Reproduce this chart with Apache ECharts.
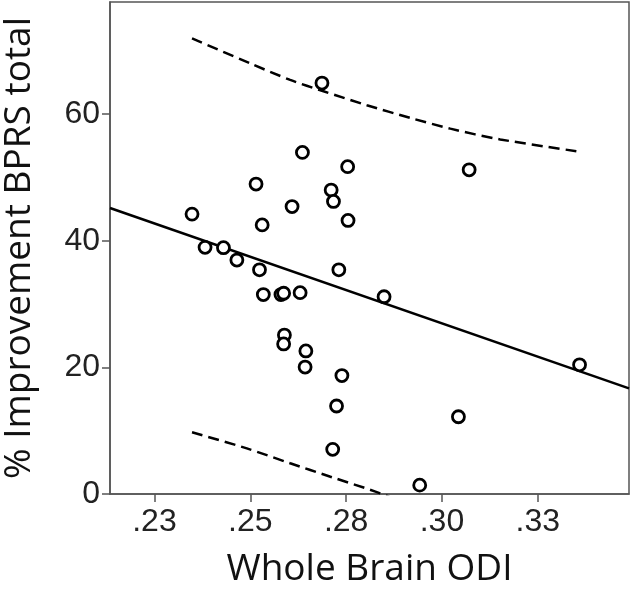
<!DOCTYPE html>
<html>
<head>
<meta charset="utf-8">
<script src="https://cdn.jsdelivr.net/npm/echarts@6/dist/echarts.min.js"></script>
<style>
  html, body { margin: 0; padding: 0; background: #fff; }
  #chart { width: 630px; height: 594px; }
</style>
</head>
<body>
<div id="chart"></div>
<script>
// Scatter data: Whole Brain ODI vs % Improvement BPRS total
const odi = [0.2687, 0.2636, 0.2754, 0.2515, 0.2711, 0.2717, 0.2609, 0.2348, 0.2531, 0.2755,
             0.2382, 0.2430, 0.2465, 0.2524, 0.2731, 0.2534, 0.2580, 0.2587, 0.2630, 0.2589,
             0.2587, 0.2645, 0.2643, 0.2739, 0.2725, 0.2715, 0.2849, 0.3071, 0.3359, 0.3043, 0.2942];
const bprs = [64.9, 53.95, 51.7, 48.95, 48.0, 46.2, 45.4, 44.2, 42.5, 43.2,
              38.95, 38.9, 36.95, 35.4, 35.4, 31.5, 31.5, 31.7, 31.8, 25.1,
              23.7, 22.6, 20.05, 18.7, 13.9, 7.05, 31.15, 51.2, 20.4, 12.2, 1.4];

// Fit line endpoints
const fitX = [0.2134, 0.3488];
const fitY = [45.16, 16.69];

// Upper / lower 95% prediction interval curves
const upperX = [0.2348, 0.2500, 0.2604, 0.2691, 0.2804, 0.2917, 0.3022, 0.3152, 0.3361];
const upperY = [71.95, 68.0, 65.4, 63.6, 61.4, 59.4, 57.7, 56.0, 54.05];
const lowerX = [0.2348, 0.2491, 0.2604, 0.2709, 0.2839, 0.2917];
const lowerY = [9.74, 7.2, 4.85, 2.73, 0.11, -1.9];

// Axis ticks
const xTickValues = [0.225, 0.25, 0.275, 0.30, 0.325];
const xTickLabels = ['.23', '.25', '.28', '.30', '.33'];
const yTickValues = [0, 20, 40, 60];
const yTickLabels = ['0', '20', '40', '60'];

const xTitle = 'Whole Brain ODI';
const yTitle = '% Improvement BPRS total';

const zip = (a, b) => a.map((v, i) => [v, b[i]]);

const chart = echarts.init(document.getElementById('chart'), null, { renderer: 'canvas' });
const axisColor = '#555';
chart.setOption({
  animation: false,
  backgroundColor: '#fff',
  grid: {
    left: 110, top: 2, right: 1, bottom: 100,
    outerBoundsMode: 'none', containLabel: false,
    show: true, borderColor: axisColor, borderWidth: 1.5, backgroundColor: 'transparent'
  },
  xAxis: {
    type: 'value', min: 0.2134, max: 0.3488,
    name: xTitle, nameLocation: 'middle', nameGap: 57,
    nameTextStyle: { fontFamily: 'Open Sans', fontSize: 37, color: '#111' },
    splitLine: { show: false },
    axisLine: { show: true, lineStyle: { color: axisColor, width: 1.5 } },
    axisTick: { show: true, length: 8, customValues: xTickValues, lineStyle: { color: axisColor, width: 1.5 } },
    axisLabel: {
      customValues: xTickValues, margin: 12,
      fontFamily: 'Liberation Sans', fontSize: 32, color: '#222',
      formatter: v => { const i = xTickValues.findIndex(t => Math.abs(t - v) < 1e-6); return i >= 0 ? xTickLabels[i] : ''; }
    }
  },
  yAxis: {
    type: 'value', min: 0, max: 77.7,
    name: yTitle, nameLocation: 'middle', nameGap: 72, nameRotate: 90,
    nameTextStyle: { fontFamily: 'Open Sans', fontSize: 37, color: '#111' },
    splitLine: { show: false },
    axisLine: { show: true, lineStyle: { color: axisColor, width: 1.5 } },
    axisTick: { show: true, length: 8, customValues: yTickValues, lineStyle: { color: axisColor, width: 1.5 } },
    axisLabel: {
      customValues: yTickValues, margin: 10,
      fontFamily: 'Liberation Sans', fontSize: 32, color: '#222',
      formatter: v => { const i = yTickValues.findIndex(t => Math.abs(t - v) < 1e-6); return i >= 0 ? yTickLabels[i] : ''; }
    }
  },
  series: [
    {
      type: 'line', data: zip(fitX, fitY), symbol: 'none', clip: true,
      lineStyle: { color: '#000', width: 2.5 }, z: 2
    },
    {
      type: 'line', data: zip(upperX, upperY), symbol: 'none', smooth: 0.3, clip: true,
      lineStyle: { color: '#000', width: 2.5, type: [11, 6] }, z: 2
    },
    {
      type: 'line', data: zip(lowerX, lowerY), symbol: 'none', smooth: 0.3, clip: true,
      lineStyle: { color: '#000', width: 2.5, type: [11, 6] }, z: 2
    },
    {
      type: 'scatter', data: zip(odi, bprs), symbol: 'circle', symbolSize: 12,
      itemStyle: { color: '#fff', borderColor: '#000', borderWidth: 2.8, opacity: 1 }, z: 3
    }
  ]
});
</script>
</body>
</html>
